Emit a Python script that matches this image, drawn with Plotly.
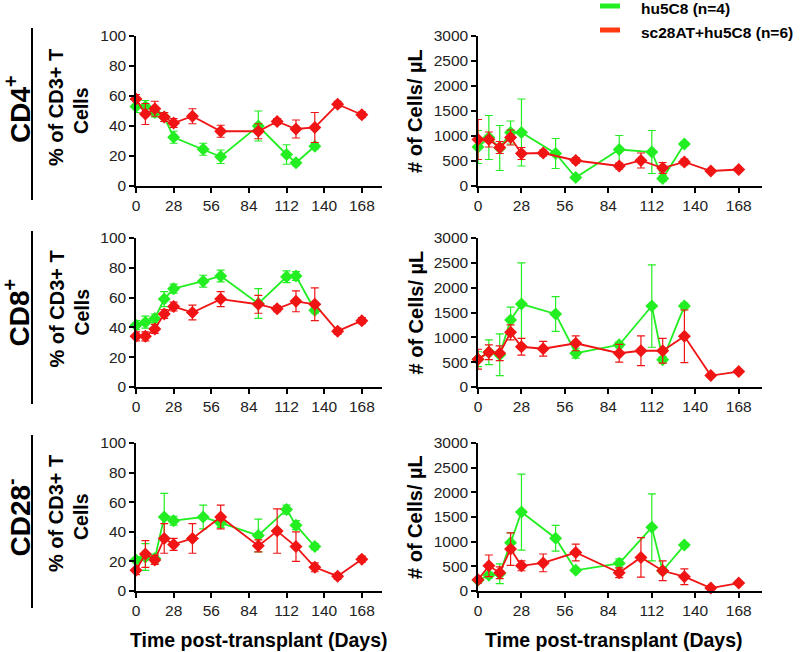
import plotly.graph_objects as go
from plotly.subplots import make_subplots

# days post-transplant
red_days = [0, 7, 14, 21, 28, 42, 63, 91, 105, 119, 133, 150, 168]
green_days = [0, 7, 14, 21, 28, 50, 63, 91, 112, 119, 133]

# CD4+ % of CD3+ T cells
cd4_pct_red = [58, 48, 51.5, 46, 42, 46.5, 36.5, 36.5, 43, 38, 39, 54.5, 47.5]
cd4_pct_red_err = [3, 7, 5, 3, 3, 5, 4, 5, 2, 6, 10, 2, 2]
cd4_pct_green = [53, 53, 49, 46, 32.5, 24.5, 19.5, 40, 21, 15.5, 26.5]
cd4_pct_green_err = [4, 4, 3, 3, 4, 4, 4.5, 10, 6.5, 2, 2]

# CD4+ cells / uL
cd4_cnt_red = [930, 930, 770, 970, 650, 660, 510, 400, 510, 360, 480, 300, 330]
cd4_cnt_red_err = [400, 150, 120, 150, 120, 60, 60, 60, 150, 110, 60, 30, 30]
cd4_cnt_green = [780, 970, 760, 1070, 1070, 650, 170, 730, 680, 150, 840]
cd4_cnt_green_err = [330, 440, 450, 230, 670, 300, 40, 280, 430, 60, 40]

# CD8+ % of CD3+ T cells
cd8_pct_red = [34, 34, 39, 49, 54, 50, 59, 55.5, 52.5, 57.5, 55.5, 37.5, 44.5]
cd8_pct_red_err = [3, 3, 3, 3, 3, 5, 5, 6, 2, 7, 11, 2, 2]
cd8_pct_green = [41.5, 43.5, 46, 59, 66, 71, 74.5, 56, 74, 74.5, 51.5]
cd8_pct_green_err = [3, 4, 3, 5, 3, 4, 4, 10, 4, 3, 2]

# CD8+ cells / uL
cd8_cnt_red = [560, 700, 680, 1100, 810, 770, 880, 680, 730, 730, 1020, 230, 310]
cd8_cnt_red_err = [200, 150, 150, 150, 170, 150, 150, 180, 300, 250, 530, 30, 30]
cd8_cnt_green = [560, 700, 650, 1350, 1670, 1470, 680, 850, 1630, 550, 1630]
cd8_cnt_green_err = [150, 250, 420, 260, 830, 350, 100, 60, 830, 60, 60]

# CD28- % of CD3+ T cells
cd28_pct_red = [14, 25, 21, 35.5, 31.5, 35.5, 50, 30.5, 40.5, 30, 16, 10, 21.5]
cd28_pct_red_err = [3, 9, 3, 10, 4, 10, 8, 4, 15, 10, 3, 2, 2]
cd28_pct_green = [21, 23, 22, 50, 47.5, 50, 46, 37.5, 55, 44.5, 30]
cd28_pct_green_err = [2, 9, 3, 16, 3, 8, 3, 11, 3, 3, 2]

# CD28- cells / uL
cd28_cnt_red = [230, 510, 370, 850, 510, 570, 780, 370, 680, 410, 290, 60, 160]
cd28_cnt_red_err = [70, 220, 120, 330, 100, 180, 170, 100, 400, 200, 160, 20, 20]
cd28_cnt_green = [220, 320, 350, 980, 1600, 1070, 420, 560, 1290, 410, 930]
cd28_cnt_green_err = [50, 60, 200, 200, 770, 260, 40, 90, 680, 60, 40]

row_labels = ["CD4<sup>+</sup>", "CD8<sup>+</sup>", "CD28<sup>-</sup>"]
legend_names = ["hu5C8 (n=4)", "sc28AT+hu5C8 (n=6)"]
x_ticks = [0, 28, 56, 84, 112, 140, 168]

GREEN = "#22EE22"
RED = "#F01414"
FONT = "Arial, Liberation Sans, sans-serif"
W, H = 800, 652

panels = [
    (1, 1, cd4_pct_green, cd4_pct_green_err, cd4_pct_red, cd4_pct_red_err),
    (1, 2, cd4_cnt_green, cd4_cnt_green_err, cd4_cnt_red, cd4_cnt_red_err),
    (2, 1, cd8_pct_green, cd8_pct_green_err, cd8_pct_red, cd8_pct_red_err),
    (2, 2, cd8_cnt_green, cd8_cnt_green_err, cd8_cnt_red, cd8_cnt_red_err),
    (3, 1, cd28_pct_green, cd28_pct_green_err, cd28_pct_red, cd28_pct_red_err),
    (3, 2, cd28_cnt_green, cd28_cnt_green_err, cd28_cnt_red, cd28_cnt_red_err),
]

fig = make_subplots(rows=3, cols=2)

for r, c, g, ge, rd, rde in panels:
    for days, vals, errs, col in [(green_days, g, ge, GREEN), (red_days, rd, rde, RED)]:
        fig.add_trace(go.Scatter(
            x=days, y=vals, mode="lines+markers",
            line=dict(color=col, width=1.8),
            marker=dict(symbol="diamond", size=10, color=col),
            error_y=dict(type="data", array=errs, color=col, thickness=1.2, width=4),
            cliponaxis=False, showlegend=False,
        ), row=r, col=c)

# pixel positions of the panels
col_px = {1: (136, 382), 2: (478, 762)}
row_px = {1: (36, 186), 2: (238, 387), 3: (443, 591)}

axis_common = dict(
    showline=True, linecolor="black", linewidth=1.5, ticks="outside", ticklen=5,
    tickwidth=1.5, tickcolor="black", showgrid=False, zeroline=False,
    tickfont=dict(family=FONT, size=15.5, color="#222"), automargin=False,
)

for r in (1, 2, 3):
    for c in (1, 2):
        x0, x1 = col_px[c]
        y0, y1 = row_px[r]
        fig.update_xaxes(axis_common, domain=[x0 / W, x1 / W], range=[0, 183],
                         tickvals=x_ticks, row=r, col=c)
        if c == 1:
            fig.update_yaxes(axis_common, domain=[1 - y1 / H, 1 - y0 / H], range=[0, 100],
                             dtick=20, row=r, col=c)
        else:
            fig.update_yaxes(axis_common, domain=[1 - y1 / H, 1 - y0 / H], range=[0, 3000],
                             dtick=500, row=r, col=c)

annotations = []
shapes = []
row_lines = {1: (28, 200), 2: (231, 404), 3: (435, 608)}


def note(text, px, py, size, angle=0, xanchor="center"):
    return dict(text=text, x=px / W, y=1 - py / H, xref="paper", yref="paper",
                xanchor=xanchor, yanchor="middle", textangle=angle, showarrow=False,
                font=dict(family=FONT, size=size, color="black"))


for r in (1, 2, 3):
    y0, y1 = row_px[r]
    mid = (y0 + y1) / 2
    la, lb = row_lines[r]
    annotations.append(note("<b>" + row_labels[r - 1] + "</b>", 18, (la + lb) / 2 - 4, 28, -90))
    shapes.append(dict(type="line", xref="paper", yref="paper", x0=32 / W, x1=32 / W,
                       y0=1 - la / H, y1=1 - lb / H, line=dict(color="black", width=2)))
    annotations.append(note("<b>% of CD3+ T</b>", 56, mid - 3, 20, -90))
    annotations.append(note("<b>Cells</b>", 81, mid, 19.5, -90))
    annotations.append(note("<b># of Cells/ µL</b>", 415, mid, 20, -90))

for cx in (259, 614):
    annotations.append(note("<b>Time post-transplant (Days)</b>", cx, 640, 19.5))

# legend
for name, col, yy in [(legend_names[0], "#22EE22", 6), (legend_names[1], "#FF3A10", 30)]:
    shapes.append(dict(type="rect", xref="paper", yref="paper", x0=600 / W, x1=620 / W,
                       y0=1 - (yy + 2.5) / H, y1=1 - (yy - 2.5) / H,
                       fillcolor=col, line=dict(width=0)))
    annotations.append(note("<b>" + name + "</b>", 639, yy + 2, 15.5, xanchor="left"))

fig.update_layout(
    width=W, height=H, margin=dict(l=0, r=0, t=0, b=0),
    paper_bgcolor="white", plot_bgcolor="white", hovermode=False,
    annotations=annotations, shapes=shapes, showlegend=False,
)

fig.write_html("out.html", config={"displayModeBar": False},
               post_script="document.body.style.margin='0';document.body.style.overflow='hidden';")
